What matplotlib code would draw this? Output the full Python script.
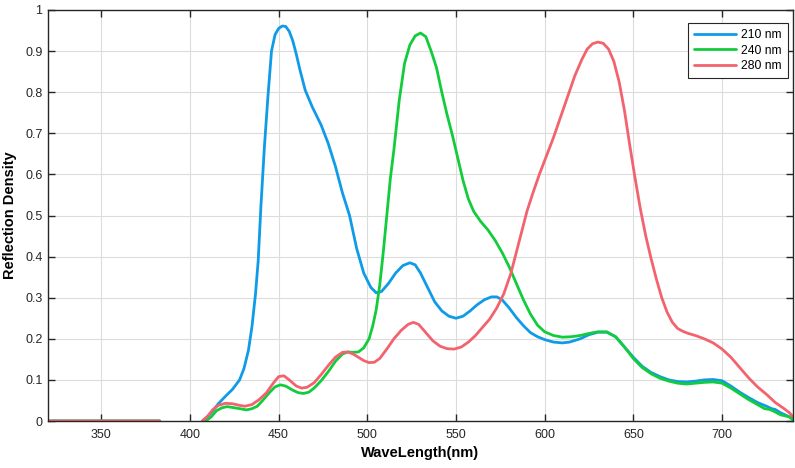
import numpy as np
import matplotlib
matplotlib.use("Agg")
import matplotlib.pyplot as plt

plt.rcParams['font.family'] = ['Liberation Sans', 'DejaVu Sans']

flat_nm = [320, 383]
flat_val = [0, 0]

blue_nm = [407,410,413,416,420,424,428,430.5,433,435,437,438.5,440,442,444,446,448,450,452,454,456,458,460,462,465,469,474,478,482,486,490,494,498,502,505,508,512,516,520,524,527,530,534,538,542,546,550,554,558,562,566,570,573,576,580,584,588,592,596,600,605,610,614,620,625,630,635,640,645,650,655,660,665,670,675,680,685,690,695,700,705,710,715,720,725,728,730,733,737,740]
blue_val = [0,0.01,0.025,0.042,0.06,0.077,0.1,0.128,0.172,0.23,0.31,0.39,0.52,0.667,0.79,0.9,0.94,0.955,0.961,0.96,0.948,0.925,0.892,0.855,0.805,0.764,0.72,0.675,0.62,0.555,0.5,0.42,0.36,0.325,0.312,0.315,0.335,0.36,0.378,0.385,0.38,0.36,0.325,0.29,0.268,0.255,0.25,0.255,0.268,0.283,0.295,0.302,0.302,0.295,0.275,0.252,0.232,0.215,0.205,0.198,0.192,0.19,0.192,0.2,0.21,0.216,0.216,0.205,0.18,0.155,0.133,0.118,0.108,0.1,0.096,0.095,0.097,0.1,0.101,0.098,0.085,0.07,0.057,0.045,0.036,0.03,0.028,0.02,0.012,0.005]

green_nm = [409,412,415,418,421,424,428,432,435,438,441,445,448,451,454,458,461,464,467,470,474,478,482,486,489,492,495,498,501,503,505,507,509,511,513,515,518,521,524,527,530,533,536,539,542,545,548,551,554,557,560,564,568,572,576,580,584,588,592,596,600,605,610,615,620,625,630,635,640,645,650,655,660,665,670,675,680,685,690,695,700,705,710,715,720,724,727,730,733,736,738,740]
green_val = [0,0.01,0.025,0.032,0.035,0.033,0.03,0.027,0.03,0.036,0.05,0.07,0.083,0.088,0.085,0.075,0.069,0.067,0.07,0.08,0.098,0.12,0.145,0.163,0.168,0.167,0.168,0.178,0.2,0.23,0.27,0.33,0.41,0.5,0.59,0.66,0.78,0.87,0.915,0.937,0.944,0.935,0.9,0.86,0.8,0.745,0.695,0.64,0.585,0.54,0.51,0.485,0.465,0.44,0.41,0.375,0.335,0.295,0.26,0.233,0.217,0.208,0.204,0.205,0.208,0.213,0.217,0.217,0.205,0.18,0.152,0.13,0.115,0.104,0.097,0.092,0.09,0.092,0.094,0.095,0.092,0.08,0.066,0.052,0.04,0.03,0.028,0.022,0.015,0.012,0.01,0.002]

red_nm = [407,410,413,416,420,424,428,431,435,439,443,447,450,453,456,460,463,466,470,474,478,482,486,489,492,495,498,501,504,507,511,515,519,523,526,529,533,537,541,545,549,553,557,561,565,569,573,577,581,584,587,590,593,597,601,605,609,613,617,621,624,627,630,633,636,639,642,645,648,651,654,657,660,663,666,669,672,675,678,681,685,690,695,700,705,710,715,720,725,730,735,738,740]
red_val = [0,0.012,0.028,0.038,0.043,0.042,0.038,0.036,0.04,0.052,0.068,0.092,0.108,0.11,0.1,0.085,0.08,0.082,0.093,0.113,0.135,0.155,0.167,0.168,0.163,0.155,0.147,0.142,0.143,0.152,0.175,0.2,0.22,0.235,0.24,0.235,0.215,0.195,0.182,0.176,0.175,0.18,0.192,0.208,0.228,0.248,0.275,0.31,0.36,0.41,0.46,0.51,0.55,0.6,0.645,0.69,0.74,0.79,0.84,0.88,0.905,0.918,0.922,0.919,0.905,0.875,0.825,0.755,0.67,0.59,0.515,0.45,0.395,0.345,0.3,0.265,0.24,0.225,0.218,0.213,0.208,0.2,0.19,0.175,0.155,0.13,0.105,0.083,0.065,0.045,0.03,0.02,0.01]

labels = ['210 nm', '240 nm', '280 nm']
colors = ['#0f9be8', '#13cc3c', '#f2636e']
xticks = [350, 400, 450, 500, 550, 600, 650, 700]
yticks = [0, 0.1, 0.2, 0.3, 0.4, 0.5, 0.6, 0.7, 0.8, 0.9, 1]
ytick_labels = ['0', '0.1', '0.2', '0.3', '0.4', '0.5', '0.6', '0.7', '0.8', '0.9', '1']

fig = plt.figure(figsize=(7.95, 4.68), dpi=100)
ax = fig.add_axes([48/795, 47/468, 745/795, 411/468])

series = [(blue_nm, blue_val), (green_nm, green_val), (red_nm, red_val)]
for (xs, ys), lab, c in zip(series, labels, colors):
    x = np.array(flat_nm + [np.nan] + xs, dtype=float)
    y = np.array(flat_val + [np.nan] + ys, dtype=float)
    ax.plot(x, y, color=c, lw=2.0, label=lab, solid_capstyle='round',
            solid_joinstyle='round')

ax.set_xlim(320, 740)
ax.set_ylim(0, 1)
ax.set_xticks(xticks)
ax.set_yticks(yticks)
ax.set_yticklabels(ytick_labels)
ax.grid(True, color='#dcdcdc', lw=0.8)
ax.set_axisbelow(True)
ax.tick_params(direction='in', top=True, right=True, length=5, width=1,
               labelsize=9, colors='#262626')
ax.tick_params(axis='x', pad=6)
ax.tick_params(axis='y', pad=4)
for s in ax.spines.values():
    s.set_color('#262626')
    s.set_linewidth(1.0)
ax.set_xlabel('WaveLength(nm)', fontsize=10.5, fontweight='bold', labelpad=3)
ax.set_ylabel('Reflection Density', fontsize=10.5, fontweight='bold', labelpad=6)
leg = ax.legend(loc='upper right', bbox_to_anchor=(0.993, 0.968), fontsize=8.7,
                fancybox=False, framealpha=1, edgecolor='#262626',
                handlelength=3.5, borderpad=0.5, labelspacing=0.28,
                handletextpad=0.4, borderaxespad=0)
leg.get_frame().set_linewidth(0.8)

fig.savefig('out.png', dpi=100)
